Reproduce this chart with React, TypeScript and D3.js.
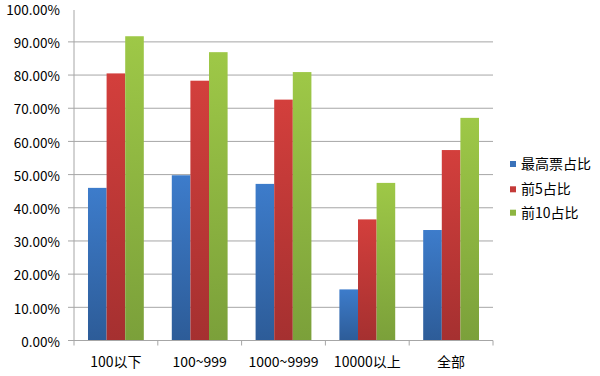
import React from "react";
import * as d3 from "d3";

const categories = ["100以下", "100~999", "1000~9999", "10000以上", "全部"];
const seriesNames = ["最高票占比", "前5占比", "前10占比"];
const topVotes = [46.0, 49.8, 47.2, 15.4, 33.3];
const top5 = [80.5, 78.3, 72.6, 36.5, 57.4];
const top10 = [91.7, 86.9, 80.9, 47.5, 67.1];
const yTicks = [0, 10, 20, 30, 40, 50, 60, 70, 80, 90, 100];

const seriesValues = [topVotes, top5, top10];
const gradients = [
  { id: "gBlue", top: "#3D7CCB", bottom: "#2D5C98", legend: "#3A72BA" },
  { id: "gRed", top: "#D33F3C", bottom: "#A53030", legend: "#C43A38" },
  { id: "gGreen", top: "#9EC847", bottom: "#7BA03A", legend: "#8DB541" },
];

const FONT = "'Noto Sans CJK SC', 'Noto Sans', sans-serif";

export default function App() {
  const W = 600, H = 376;
  const left = 74, right = 493, top = 8.7, bottom = 340.5;
  const x = d3.scaleBand<string>().domain(categories).range([left, right]).padding(0);
  const bw = x.bandwidth();
  const inner = d3
    .scaleBand<number>()
    .domain([0, 1, 2])
    .range([bw * 0.167, bw * 0.833])
    .padding(0);
  const y = d3.scaleLinear().domain([0, 100]).range([bottom, top]);

  return (
    <svg width={W} height={H} style={{ position: "absolute", left: 0, top: 0 }}>
      <defs>
        {gradients.map((g) => (
          <linearGradient key={g.id} id={g.id} x1="0" y1="0" x2="0" y2="1">
            <stop offset="0%" stopColor={g.top} />
            <stop offset="100%" stopColor={g.bottom} />
          </linearGradient>
        ))}
      </defs>
      <rect width={W} height={H} fill="#fff" />
      {/* gridlines */}
      {yTicks.filter((t) => t > 0 && t < 100).map((t) => (
        <line key={t} x1={left} x2={right} y1={y(t)} y2={y(t)} stroke="#A6A6A6" strokeWidth={1} />
      ))}
      {/* y tick marks and labels */}
      {yTicks.map((t) => (
        <g key={"yt" + t}>
          {t < 100 && <line x1={left - 6} x2={left} y1={y(t)} y2={y(t)} stroke="#A6A6A6" />}
          <text
            x={60}
            y={y(t) + 1.5}
            dy="0.35em"
            textAnchor="end"
            fontFamily={FONT}
            fontSize={13.5}
            fill="#000"
          >
            {d3.format(".2f")(t) + "%"}
          </text>
        </g>
      ))}
      {/* bars */}
      {categories.map((c, i) => (
        <g key={c}>
          {seriesValues.map((vals, s) => (
            <rect
              key={s}
              x={(x(c) as number) + (inner(s) as number)}
              y={y(vals[i])}
              width={inner.bandwidth()}
              height={bottom - y(vals[i])}
              fill={`url(#${gradients[s].id})`}
            />
          ))}
        </g>
      ))}
      {/* axes */}
      <line x1={left} x2={left} y1={10} y2={bottom} stroke="#A6A6A6" />
      <line x1={left - 6} x2={right} y1={bottom} y2={bottom} stroke="#A6A6A6" />
      {categories.map((c) => (
        <line key={"xt" + c} x1={x(c)} x2={x(c)} y1={bottom} y2={bottom + 5} stroke="#A6A6A6" />
      ))}
      <line x1={right} x2={right} y1={bottom} y2={bottom + 5} stroke="#A6A6A6" />
      {categories.map((c) => (
        <text
          key={"xl" + c}
          x={(x(c) as number) + bw / 2}
          y={367}
          textAnchor="middle"
          fontFamily={FONT}
          fontSize={14}
          fill="#000"
        >
          {c}
        </text>
      ))}
      {/* legend */}
      {seriesNames.map((n, s) => {
        const ly = [164, 189.3, 212.7][s];
        return (
          <g key={n}>
            <rect x={510} y={ly - 3} width={6} height={6} fill={gradients[s].legend} />
            <text x={521} y={ly} dy="0.35em" fontFamily={FONT} fontSize={14} fill="#000">
              {n}
            </text>
          </g>
        );
      })}
    </svg>
  );
}
